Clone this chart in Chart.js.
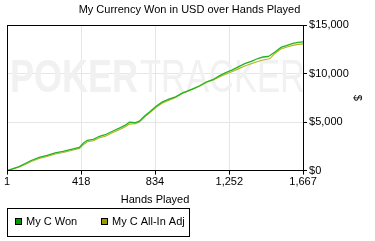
<!DOCTYPE html>
<html>
<head>
<meta charset="utf-8">
<script src="https://cdn.jsdelivr.net/npm/chart.js@4/dist/chart.umd.min.js"></script>
<style>
  html, body { margin: 0; padding: 0; background: #fff; }
  #wrap { width: 375px; height: 241px; position: relative; }
</style>
</head>
<body>
<div id="wrap"><canvas id="myChart" width="375" height="241"></canvas></div>
<script>
// hands played (x) for each point
const hands = [1, 35, 69, 103, 137, 182, 227, 272, 317, 362,
  408, 430, 453, 487, 521, 554, 594, 633, 667, 690,
  724, 746, 775, 803, 842, 876, 916, 950, 989, 1012,
  1046, 1085, 1125, 1159, 1198, 1232, 1266, 1300, 1339, 1379,
  1413, 1441, 1470, 1481, 1509, 1543, 1577, 1610, 1639, 1667];

const wonValues = [0, 208, 417, 729, 1042, 1354, 1563, 1823, 1979, 2188,
  2396, 2813, 3125, 3229, 3542, 3698, 4063, 4375, 4688, 5000,
  4948, 5104, 5625, 6042, 6667, 7083, 7396, 7604, 8021, 8177,
  8438, 8750, 9167, 9375, 9792, 10104, 10365, 10677, 11042, 11302,
  11563, 11719, 11771, 11875, 12240, 12708, 12917, 13125, 13229, 13281];

const allInAdjValues = [0, 156, 365, 625, 938, 1250, 1458, 1719, 1875, 2083,
  2292, 2656, 2969, 3073, 3385, 3542, 3906, 4219, 4531, 4792,
  4844, 5000, 5521, 5938, 6563, 6979, 7292, 7552, 7969, 8125,
  8385, 8698, 9115, 9323, 9688, 9948, 10208, 10469, 10781, 11042,
  11250, 11406, 11510, 11563, 12083, 12552, 12760, 12917, 13021, 13073];

const seriesNames = ['My C Won', 'My C All-In Adj'];
const xTicks = [1, 418, 834, 1252, 1667];
const yTicks = [0, 5000, 10000, 15000];

const FONT = 'Arial, "Liberation Sans", sans-serif';

function pts(vals) {
  var out = [];
  for (var i = 0; i < vals.length; i++) {
    out.push({ x: hands[i], y: vals[i] });
  }
  return out;
}

// watermark + border + legend box
const extras = {
  id: 'extras',
  beforeDatasetsDraw(chart) {
    const ctx = chart.ctx, a = chart.chartArea;
    ctx.save();
    ctx.fillStyle = '#f1f1f1';
    ctx.textBaseline = 'alphabetic';
    ctx.font = 'bold 46px ' + FONT;
    ctx.fillText('POKER', a.left + 3, a.top + 67, 128);
    ctx.font = '46px ' + FONT;
    ctx.fillText('TRACKER', a.left + 133, a.top + 67, 165);
    ctx.restore();
  },
  afterDraw(chart) {
    const ctx = chart.ctx, a = chart.chartArea;
    ctx.save();
    ctx.strokeStyle = '#000';
    ctx.lineWidth = 1;
    ctx.strokeRect(Math.round(a.left) + 0.5, Math.round(a.top) + 0.5,
      Math.round(a.right - a.left), Math.round(a.bottom - a.top));

    // legend box
    ctx.strokeRect(7.5, 208.5, 182, 28);
    const colors = ['#009900', '#999900'];
    const xs = [15, 101];
    ctx.font = '11px ' + FONT;
    ctx.textBaseline = 'middle';
    for (let i = 0; i < seriesNames.length; i++) {
      ctx.fillStyle = colors[i];
      ctx.fillRect(xs[i], 218, 7, 7);
      ctx.strokeRect(xs[i] + 0.5, 218.5, 6, 6);
      ctx.fillStyle = '#000';
      ctx.fillText(seriesNames[i], xs[i] + 11, 222);
    }
    ctx.restore();
  }
};

new Chart(document.getElementById('myChart'), {
  type: 'line',
  data: {
    datasets: [
      {
        label: seriesNames[0],
        data: pts(wonValues),
        borderColor: '#22b422',
        borderWidth: 1.3,
        pointRadius: 0,
        tension: 0
      },
      {
        label: seriesNames[1],
        data: pts(allInAdjValues),
        borderColor: '#b4b41e',
        borderWidth: 1.1,
        pointRadius: 0,
        tension: 0
      }
    ]
  },
  options: {
    responsive: false,
    animation: false,
    devicePixelRatio: 1,
    layout: { padding: { left: 7, right: 3, top: 0, bottom: 34 } },
    plugins: {
      legend: { display: false },
      tooltip: { enabled: false },
      title: {
        display: true,
        text: 'My Currency Won in USD over Hands Played',
        color: '#000',
        font: { family: FONT, size: 11, weight: 'normal' },
        padding: { top: 3, bottom: 9 }
      }
    },
    scales: {
      x: {
        type: 'linear',
        min: 1,
        max: 1667,
        afterBuildTicks: function(axis) {
          axis.ticks = xTicks.map(function(v) { return { value: v }; });
        },
        ticks: {
          color: '#000',
          font: { family: FONT, size: 11 },
          padding: 1,
          maxRotation: 0,
          callback: function(v) { return v.toLocaleString('en-US'); }
        },
        grid: { color: '#e6e6e6', tickColor: '#000', tickLength: 4 },
        border: { color: '#000' },
        title: {
          display: true,
          text: 'Hands Played',
          color: '#000',
          font: { family: FONT, size: 11 },
          padding: { top: 4, bottom: 0 }
        }
      },
      y: {
        position: 'right',
        min: 0,
        max: 15000,
        afterBuildTicks: function(axis) {
          axis.ticks = yTicks.map(function(v) { return { value: v }; });
        },
        ticks: {
          color: '#000',
          font: { family: FONT, size: 11 },
          padding: 2,
          callback: function(v) { return '$' + v.toLocaleString('en-US'); }
        },
        grid: { color: '#e6e6e6', tickColor: '#000', tickLength: 4 },
        border: { color: '#000' },
        title: {
          display: true,
          text: '$',
          color: '#000',
          font: { family: FONT, size: 11 },
          padding: { top: 8, bottom: 0 }
        }
      }
    }
  },
  plugins: [extras]
});
</script>
</body>
</html>
